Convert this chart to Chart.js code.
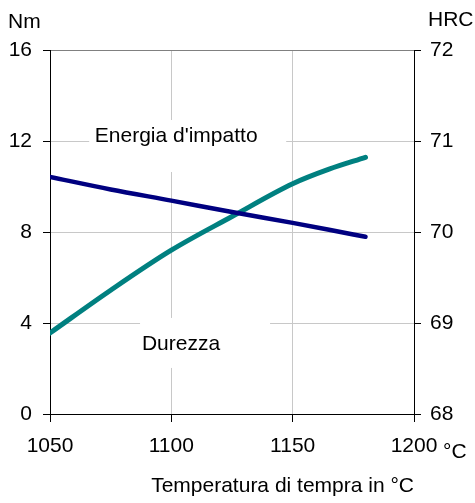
<!DOCTYPE html>
<html lang="it">
<head>
    <meta charset="UTF-8">
    <title>Energia d'impatto e durezza</title>
    <script src="https://cdn.jsdelivr.net/npm/chart.js"></script>
    <style>
        body { margin: 0; background: #fff; }
        canvas { display: block; }
    </style>
</head>
<body>
    <canvas id="chart" width="475" height="503"></canvas>
    <script>
        // Dati
        const temperature = [1050, 1075, 1100, 1125, 1150, 1165, 1180];
        const energia = [10.42, 9.87, 9.38, 8.88, 8.40, 8.10, 7.79];      // Nm
        const durezza = [68.89, 69.36, 69.80, 70.17, 70.53, 70.69, 70.82]; // HRC

        const xTicks = [1050, 1100, 1150, 1200];
        const nmTicks = [0, 4, 8, 12, 16];
        const hrcTicks = [68, 69, 70, 71, 72];

        const FONT = { family: "'Liberation Sans', Arial, sans-serif", size: 21 };

        // etichette delle curve, posizionate in coordinate dei dati
        const curveLabels = [
            { text: "Energia d'impatto", x: 1102, y: 12.22, box: [87, 110, 16, 36] },
            { text: 'Durezza', x: 1104, y: 3.08, box: [41, 89, 26, 24] }
        ];

        const labelPlugin = {
            id: 'labels',
            beforeDatasetsDraw(chart) {
                const ctx = chart.ctx;
                const sx = chart.scales.x, sy = chart.scales.y;
                ctx.save();
                ctx.font = FONT.size + 'px ' + FONT.family;
                ctx.textAlign = 'center';
                ctx.textBaseline = 'middle';
                curveLabels.forEach(l => {
                    const px = sx.getPixelForValue(l.x);
                    const py = sy.getPixelForValue(l.y);
                    ctx.fillStyle = '#fff';
                    ctx.fillRect(px - l.box[0], py - l.box[2], l.box[0] + l.box[1], l.box[2] + l.box[3]);
                    ctx.fillStyle = '#000';
                    ctx.fillText(l.text, px, py);
                });
                ctx.restore();
            },
            afterDraw(chart) {
                const ctx = chart.ctx;
                const a = chart.chartArea;
                ctx.save();
                ctx.font = FONT.size + 'px ' + FONT.family;
                ctx.fillStyle = '#000';
                ctx.textBaseline = 'middle';
                ctx.textAlign = 'left';
                ctx.fillText('Nm', 8, a.top - 28);
                ctx.fillText('HRC', 428, a.top - 30);
                ctx.fillText('°C', a.right + 29, a.bottom + 38);
                ctx.restore();
            }
        };

        new Chart(document.getElementById('chart'), {
            type: 'line',
            data: {
                datasets: [
                    {
                        label: "Energia d'impatto",
                        data: temperature.map((t, i) => ({ x: t, y: energia[i] })),
                        yAxisID: 'y',
                        borderColor: '#000080',
                        borderWidth: 4.5,
                        borderCapStyle: 'round',
                        pointRadius: 0,
                        cubicInterpolationMode: 'monotone'
                    },
                    {
                        label: 'Durezza',
                        data: temperature.map((t, i) => ({ x: t, y: durezza[i] })),
                        yAxisID: 'y1',
                        borderColor: '#008080',
                        borderWidth: 5,
                        borderCapStyle: 'round',
                        pointRadius: 0,
                        cubicInterpolationMode: 'monotone'
                    }
                ]
            },
            options: {
                responsive: false,
                animation: false,
                devicePixelRatio: 1,
                layout: { padding: { top: 50 } },
                plugins: {
                    legend: { display: false },
                    tooltip: { enabled: false }
                },
                scales: {
                    x: {
                        type: 'linear',
                        min: xTicks[0],
                        max: xTicks[xTicks.length - 1],
                        afterBuildTicks: s => { s.ticks = xTicks.map(v => ({ value: v })); },
                        afterFit: s => { s.height = 89; },
                        ticks: { font: FONT, color: '#000', padding: 12, maxRotation: 0, callback: v => String(v) },
                        grid: { color: '#c8c8c8', tickColor: '#000', tickLength: 8 },
                        border: { color: '#000' },
                        title: {
                            display: true,
                            text: 'Temperatura di tempra in °C',
                            align: 'end',
                            font: FONT,
                            color: '#000',
                            padding: { top: 0, bottom: 4 }
                        }
                    },
                    y: {
                        position: 'left',
                        min: nmTicks[0],
                        max: nmTicks[nmTicks.length - 1],
                        afterBuildTicks: s => { s.ticks = nmTicks.map(v => ({ value: v })); },
                        afterFit: s => { s.width = 50; },
                        ticks: { font: FONT, color: '#000', padding: 11 },
                        grid: {
                            color: c => (c.tick && c.tick.value === 16 ? '#808080' : '#c8c8c8'),
                            tickColor: '#000',
                            tickLength: 7
                        },
                        border: { color: '#000' }
                    },
                    y1: {
                        position: 'right',
                        min: hrcTicks[0],
                        max: hrcTicks[hrcTicks.length - 1],
                        afterBuildTicks: s => { s.ticks = hrcTicks.map(v => ({ value: v })); },
                        afterFit: s => { s.width = 61; },
                        ticks: { font: FONT, color: '#000', padding: 9 },
                        grid: { drawOnChartArea: false, tickColor: '#000', tickLength: 7 },
                        border: { color: '#000' }
                    }
                }
            },
            plugins: [labelPlugin]
        });
    </script>
</body>
</html>
